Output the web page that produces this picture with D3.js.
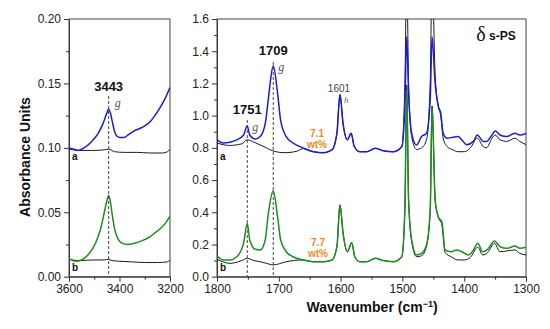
<!DOCTYPE html>
<html>
<head>
<meta charset="utf-8">
<script src="https://cdn.jsdelivr.net/npm/d3@7"></script>
<style>
  body { margin: 0; background: #fff; }
  svg { display: block; font-family: "Liberation Sans", Arial, sans-serif; }
</style>
</head>
<body>
<div id="viz"></div>
<script>
// left panel: O-H region, [wavenumber, absorbance]
const leftSampleA = [[3600,0.100],[3580,0.099],[3565,0.098],[3540,0.100],[3510,0.105],[3485,0.111],[3465,0.119],[3452,0.126],[3443,0.130],[3436,0.127],[3428,0.120],[3420,0.113],[3410,0.109],[3398,0.108],[3382,0.108],[3366,0.110],[3343,0.113],[3320,0.115],[3300,0.117],[3280,0.120],[3260,0.125],[3240,0.131],[3220,0.138],[3200,0.147]];
const leftRefA = [[3600,0.099],[3560,0.098],[3500,0.098],[3460,0.0985],[3443,0.099],[3430,0.098],[3420,0.097],[3380,0.0965],[3330,0.0965],[3280,0.096],[3230,0.096],[3210,0.097],[3200,0.099]];
const leftSampleB = [[3600,0.014],[3575,0.012],[3550,0.013],[3520,0.018],[3495,0.026],[3475,0.037],[3460,0.050],[3450,0.059],[3443,0.063],[3436,0.058],[3428,0.047],[3418,0.036],[3405,0.029],[3390,0.026],[3370,0.025],[3340,0.026],[3310,0.028],[3280,0.031],[3260,0.034],[3240,0.037],[3220,0.041],[3200,0.047]];
const leftRefB = [[3600,0.0135],[3560,0.0125],[3500,0.013],[3460,0.013],[3443,0.0135],[3430,0.0125],[3400,0.012],[3350,0.0115],[3300,0.011],[3250,0.011],[3210,0.0115],[3200,0.013]];

// right panel: C=O / aromatic region
const rightSampleA = [[1800,0.85],[1790,0.83],[1779,0.835],[1768,0.85],[1757,0.88],[1751,0.936],[1747,0.88],[1738,0.855],[1730,0.87],[1722,0.95],[1717,1.10],[1714,1.20],[1709,1.31],[1702,1.14],[1697,0.97],[1688,0.87],[1677,0.83],[1661,0.80],[1644,0.776],[1628,0.77],[1614,0.787],[1606,0.89],[1601,1.13],[1596,0.95],[1589,0.85],[1583,0.89],[1578,0.81],[1569,0.776],[1558,0.776],[1544,0.797],[1531,0.782],[1515,0.776],[1501,0.807],[1496,1.06],[1493,1.49],[1490,1.14],[1485,0.89],[1477,0.817],[1469,0.87],[1461,0.89],[1455,1.10],[1452,1.49],[1447,1.20],[1442,1.06],[1438,1.015],[1434,0.89],[1428,0.86],[1418,0.866],[1410,0.87],[1404,0.85],[1396,0.82],[1385,0.84],[1379,0.88],[1369,0.84],[1364,0.84],[1355,0.88],[1350,0.905],[1342,0.88],[1331,0.87],[1318,0.89],[1310,0.88],[1300,0.89]];
const rightRefA = [[1800,0.83],[1780,0.815],[1760,0.825],[1751,0.85],[1740,0.835],[1720,0.80],[1709,0.78],[1690,0.77],[1670,0.78],[1660,0.795],[1644,0.776],[1628,0.77],[1614,0.787],[1606,0.89],[1601,1.13],[1596,0.95],[1589,0.85],[1583,0.89],[1578,0.81],[1569,0.776],[1558,0.776],[1544,0.797],[1531,0.782],[1515,0.776],[1501,0.807],[1496,1.20],[1493,1.90],[1490,1.20],[1485,0.87],[1477,0.79],[1469,0.80],[1461,0.85],[1455,1.20],[1452,1.90],[1447,1.25],[1442,1.06],[1438,1.00],[1434,0.86],[1428,0.81],[1418,0.787],[1410,0.776],[1400,0.776],[1390,0.80],[1379,0.86],[1369,0.807],[1364,0.80],[1355,0.86],[1350,0.88],[1342,0.85],[1331,0.84],[1318,0.86],[1310,0.84],[1300,0.82]];
const rightSampleB = [[1800,0.128],[1790,0.104],[1779,0.104],[1768,0.124],[1757,0.207],[1751,0.33],[1747,0.228],[1738,0.17],[1730,0.166],[1722,0.228],[1717,0.39],[1709,0.534],[1702,0.373],[1697,0.228],[1688,0.155],[1677,0.124],[1661,0.104],[1644,0.093],[1628,0.093],[1614,0.104],[1606,0.186],[1601,0.445],[1596,0.27],[1589,0.155],[1582,0.211],[1577,0.124],[1569,0.093],[1558,0.093],[1544,0.114],[1531,0.10],[1515,0.093],[1501,0.124],[1496,0.41],[1493,1.16],[1490,0.476],[1485,0.228],[1477,0.135],[1469,0.145],[1461,0.197],[1455,0.414],[1452,1.06],[1447,0.476],[1442,0.373],[1436,0.34],[1431,0.166],[1421,0.155],[1412,0.166],[1404,0.155],[1393,0.135],[1385,0.166],[1378,0.207],[1370,0.155],[1362,0.17],[1351,0.222],[1342,0.186],[1331,0.176],[1318,0.19],[1310,0.176],[1300,0.183]];
const rightRefB = [[1800,0.108],[1779,0.083],[1760,0.10],[1751,0.114],[1740,0.10],[1730,0.093],[1720,0.083],[1709,0.073],[1688,0.093],[1661,0.104],[1644,0.093],[1628,0.093],[1614,0.104],[1606,0.186],[1601,0.445],[1596,0.27],[1589,0.155],[1582,0.211],[1577,0.124],[1569,0.093],[1558,0.093],[1544,0.114],[1531,0.10],[1515,0.093],[1501,0.124],[1496,0.43],[1493,1.19],[1490,0.48],[1485,0.22],[1477,0.124],[1469,0.13],[1461,0.19],[1455,0.41],[1452,1.06],[1447,0.476],[1442,0.37],[1436,0.32],[1431,0.15],[1421,0.124],[1410,0.104],[1400,0.104],[1390,0.12],[1378,0.183],[1370,0.135],[1362,0.15],[1351,0.207],[1342,0.155],[1331,0.16],[1318,0.166],[1310,0.145],[1300,0.135]];

// ticks
const leftXTicks = [3600, 3400, 3200];
const leftYTicks = [0.00, 0.05, 0.10, 0.15, 0.20];
const rightXTicks = [1800, 1700, 1600, 1500, 1400, 1300];
const rightYTicks = [0.0, 0.2, 0.4, 0.6, 0.8, 1.0, 1.2, 1.4, 1.6];

const blue = '#1c1cd6', green = '#1e8c1e', black = '#1a1a1a', orange = '#f08a1c';

let width = 550, height = 329;
let svg = d3.select('#viz').append('svg')
  .attr('width', width)
  .attr('height', height);

let plotTop = 19, plotBottom = 276.7;

function buildPanel(id, x0, x1, xDom, yDom, xTicks, yTicks, xMinor, yMinor, yFmt) {
  let x = d3.scaleLinear().domain(xDom).range([x0, x1]);
  let y = d3.scaleLinear().domain(yDom).range([plotBottom, plotTop]);

  svg.append('defs').append('clipPath')
    .attr('id', id)
    .append('rect')
    .attr('x', x0).attr('y', plotTop)
    .attr('width', x1 - x0).attr('height', plotBottom - plotTop);

  // minor ticks
  svg.append('g')
    .attr('transform', `translate(0,${plotBottom})`)
    .call(d3.axisBottom(x).tickValues(xMinor).tickSize(3).tickFormat(''))
    .call(g => g.select('.domain').remove())
    .call(g => g.selectAll('line').attr('stroke', '#333'));
  svg.append('g')
    .attr('transform', `translate(${x0},0)`)
    .call(d3.axisLeft(y).tickValues(yMinor).tickSize(3).tickFormat(''))
    .call(g => g.select('.domain').remove())
    .call(g => g.selectAll('line').attr('stroke', '#333'));

  let xa = svg.append('g')
    .attr('transform', `translate(0,${plotBottom})`)
    .call(d3.axisBottom(x).tickValues(xTicks).tickSize(5).tickSizeOuter(0).tickPadding(3).tickFormat(d3.format('d')));
  let ya = svg.append('g')
    .attr('transform', `translate(${x0},0)`)
    .call(d3.axisLeft(y).tickValues(yTicks).tickSize(5).tickSizeOuter(0).tickPadding(3).tickFormat(yFmt));

  [xa, ya].forEach(a => {
    a.selectAll('text').style('font-size', '12px').style('font-family', '"Liberation Sans", Arial, sans-serif').attr('fill', '#222');
    a.selectAll('line').attr('stroke', '#333');
    a.select('.domain').attr('stroke', '#333');
  });

  // frame
  svg.append('rect')
    .attr('x', x0).attr('y', plotTop)
    .attr('width', x1 - x0).attr('height', plotBottom - plotTop)
    .attr('fill', 'none')
    .attr('stroke', '#444')
    .attr('stroke-width', 1);

  let g = svg.append('g').attr('clip-path', `url(#${id})`);
  return { x, y, g };
}

function drawLine(p, data, color, w) {
  let line = d3.line()
    .x(d => p.x(d[0]))
    .y(d => p.y(d[1]))
    .curve(d3.curveMonotoneX);
  p.g.append('path')
    .datum(data)
    .attr('d', line)
    .attr('fill', 'none')
    .attr('stroke', color)
    .attr('stroke-width', w)
    .attr('stroke-linejoin', 'round');
}

let L = buildPanel('clipL', 69, 170, [3600, 3200], [0, 0.2], leftXTicks, leftYTicks,
  [3500, 3300], [0.025, 0.075, 0.125, 0.175], d3.format('.2f'));
let R = buildPanel('clipR', 217, 526, [1800, 1300], [0, 1.6], rightXTicks, rightYTicks,
  [1750, 1650, 1550, 1450, 1350], [0.1, 0.3, 0.5, 0.7, 0.9, 1.1, 1.3, 1.5], d3.format('.1f'));

// dashed guides
function guide(p, wn, yFrom) {
  p.g.append('line')
    .attr('x1', p.x(wn)).attr('x2', p.x(wn))
    .attr('y1', yFrom).attr('y2', plotBottom)
    .attr('stroke', '#333')
    .attr('stroke-width', 0.9)
    .attr('stroke-dasharray', '3,2');
}
guide(L, 3443, 96);
guide(R, 1751, 120);
guide(R, 1709, 62);

drawLine(L, leftRefA, black, 1);
drawLine(L, leftRefB, black, 1);
drawLine(L, leftSampleA, blue, 1.5);
drawLine(L, leftSampleB, green, 1.5);

drawLine(R, rightRefA, black, 1);
drawLine(R, rightRefB, black, 1);
drawLine(R, rightSampleA, blue, 1.5);
drawLine(R, rightSampleB, green, 1.5);

function label(txt, x, y, opts) {
  let t = svg.append('text')
    .text(txt)
    .attr('x', x)
    .attr('y', y)
    .attr('text-anchor', opts.anchor || 'middle')
    .style('font-family', opts.family || '"Liberation Sans", Arial, sans-serif')
    .style('font-size', opts.size + 'px')
    .style('font-weight', opts.weight || 'normal')
    .style('font-style', opts.style || 'normal')
    .attr('fill', opts.color || '#111');
  return t;
}

// peak labels
label('3443', L.x(3443), 91, { size: 13, weight: 'bold' });
label('g', L.x(3443) + 6, 107, { size: 12, style: 'italic', family: '"Liberation Serif", serif', color: '#555', anchor: 'start' });
label('1751', R.x(1751), 114, { size: 13, weight: 'bold' });
label('g', R.x(1751) + 5, 131, { size: 12, style: 'italic', family: '"Liberation Serif", serif', color: '#555', anchor: 'start' });
label('1709', R.x(1709), 55, { size: 13, weight: 'bold' });
label('g', R.x(1709) + 5, 71, { size: 12, style: 'italic', family: '"Liberation Serif", serif', color: '#555', anchor: 'start' });
label('1601', R.x(1601) - 1, 92, { size: 10, color: '#444' });
label('h', R.x(1601) + 4, 103, { size: 9, style: 'italic', family: '"Liberation Serif", serif', color: '#666', anchor: 'start' });

// concentration labels
label('7.1', 317, 137, { size: 10, weight: 'bold', color: orange });
label('wt%', 317, 148, { size: 10, weight: 'bold', color: orange });
label('7.7', 318, 246, { size: 10, weight: 'bold', color: orange });
label('wt%', 318, 257, { size: 10, weight: 'bold', color: orange });

// trace letters
label('a', 72, 160, { size: 10, weight: 'bold', anchor: 'start' });
label('b', 72, 271, { size: 10, weight: 'bold', anchor: 'start' });
label('a', 220, 160, { size: 10, weight: 'bold', anchor: 'start' });
label('b', 220, 271, { size: 10, weight: 'bold', anchor: 'start' });

// sample name
label('δ', 481, 41, { size: 20, family: '"Liberation Serif", serif' });
label('s-PS', 489, 40, { size: 12, weight: 'bold', anchor: 'start' });

// axis titles
label('Absorbance Units', 0, 0, { size: 14, weight: 'bold' })
  .attr('transform', 'translate(30,157) rotate(-90)');

let xt = label('Wavenumber (cm', 372, 312, { size: 14, weight: 'bold' });
xt.append('tspan').text('−1').attr('dy', -5).style('font-size', '9px');
xt.append('tspan').text(')').attr('dy', 5);
</script>
</body>
</html>
